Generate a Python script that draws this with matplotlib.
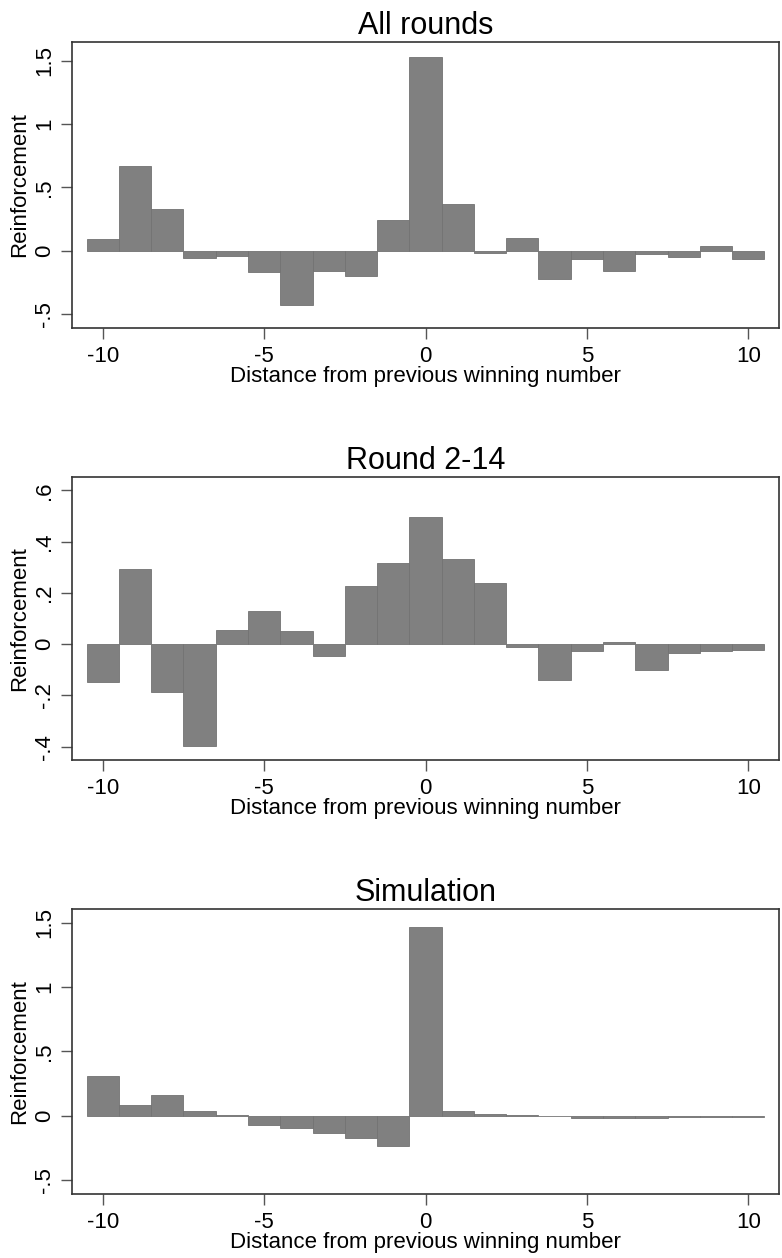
import matplotlib
matplotlib.use("Agg")
import matplotlib.pyplot as plt

plt.rcParams['font.family'] = ['Liberation Sans', 'DejaVu Sans']

distance = list(range(-10, 11))

all_rounds = [0.089, 0.668, 0.329, -0.061, -0.039, -0.166, -0.432, -0.158, -0.203, 0.239,
              1.526, 0.366, -0.018, 0.103, -0.221, -0.066, -0.158, -0.026, -0.053, 0.037, -0.066]
round_2_14 = [-0.147, 0.292, -0.188, -0.397, 0.057, 0.129, 0.051, -0.047, 0.225, 0.316,
              0.495, 0.334, 0.240, -0.010, -0.139, -0.026, 0.010, -0.101, -0.036, -0.026, -0.023]
simulation = [0.307, 0.085, 0.160, 0.036, 0.008, -0.072, -0.098, -0.137, -0.173, -0.233,
              1.468, 0.041, 0.016, 0.005, 0.001, -0.018, -0.016, -0.018, -0.010, -0.010, -0.008]

titles = ["All rounds", "Round 2-14", "Simulation"]
x_ticks = [-10, -5, 0, 5, 10]
y_ticks = [
    ([-0.5, 0, 0.5, 1, 1.5], ["-.5", "0", ".5", "1", "1.5"]),
    ([-0.4, -0.2, 0, 0.2, 0.4, 0.6], ["-.4", "-.2", "0", ".2", ".4", ".6"]),
    ([-0.5, 0, 0.5, 1, 1.5], ["-.5", "0", ".5", "1", "1.5"]),
]
y_limits = [(-0.61, 1.647), (-0.452, 0.652), (-0.607, 1.605)]
series = [all_rounds, round_2_14, simulation]

W, H = 782, 1258
fig = plt.figure(figsize=(W / 100, H / 100), dpi=100)

# panel frames in pixel coordinates: (left, top, right, bottom)
frames = [(72, 42, 779, 328), (72, 477, 779, 760), (72, 909, 779, 1194)]

frame_color = "#333333"
tick_color = "#555555"

for (l, t, r, b), vals, title, (yt, ytl), ylim in zip(frames, series, titles, y_ticks, y_limits):
    ax = fig.add_axes([l / W, 1 - b / H, (r - l) / W, (b - t) / H])
    ax.bar(distance, vals, width=1.0, color="#808080", edgecolor="#727272", linewidth=0.6)
    ax.set_xlim(-10.95, 10.95)
    ax.set_ylim(*ylim)
    ax.set_xticks(x_ticks)
    ax.set_xticklabels([str(v) for v in x_ticks])
    ax.set_yticks(yt)
    ax.set_yticklabels(ytl, rotation=90, va="center")
    ax.tick_params(axis="both", length=8, width=1.0, color=tick_color,
                   labelsize=16, pad=4)
    ax.tick_params(axis="x", pad=5)
    for s in ax.spines.values():
        s.set_color(frame_color)
        s.set_linewidth(1.2)
    ax.set_title(title, fontsize=22, pad=6)
    ax.set_xlabel("Distance from previous winning number", fontsize=16, labelpad=-1)
    ax.set_ylabel("Reinforcement", fontsize=16, labelpad=3)

fig.savefig("out.png", dpi=100, facecolor="white")
